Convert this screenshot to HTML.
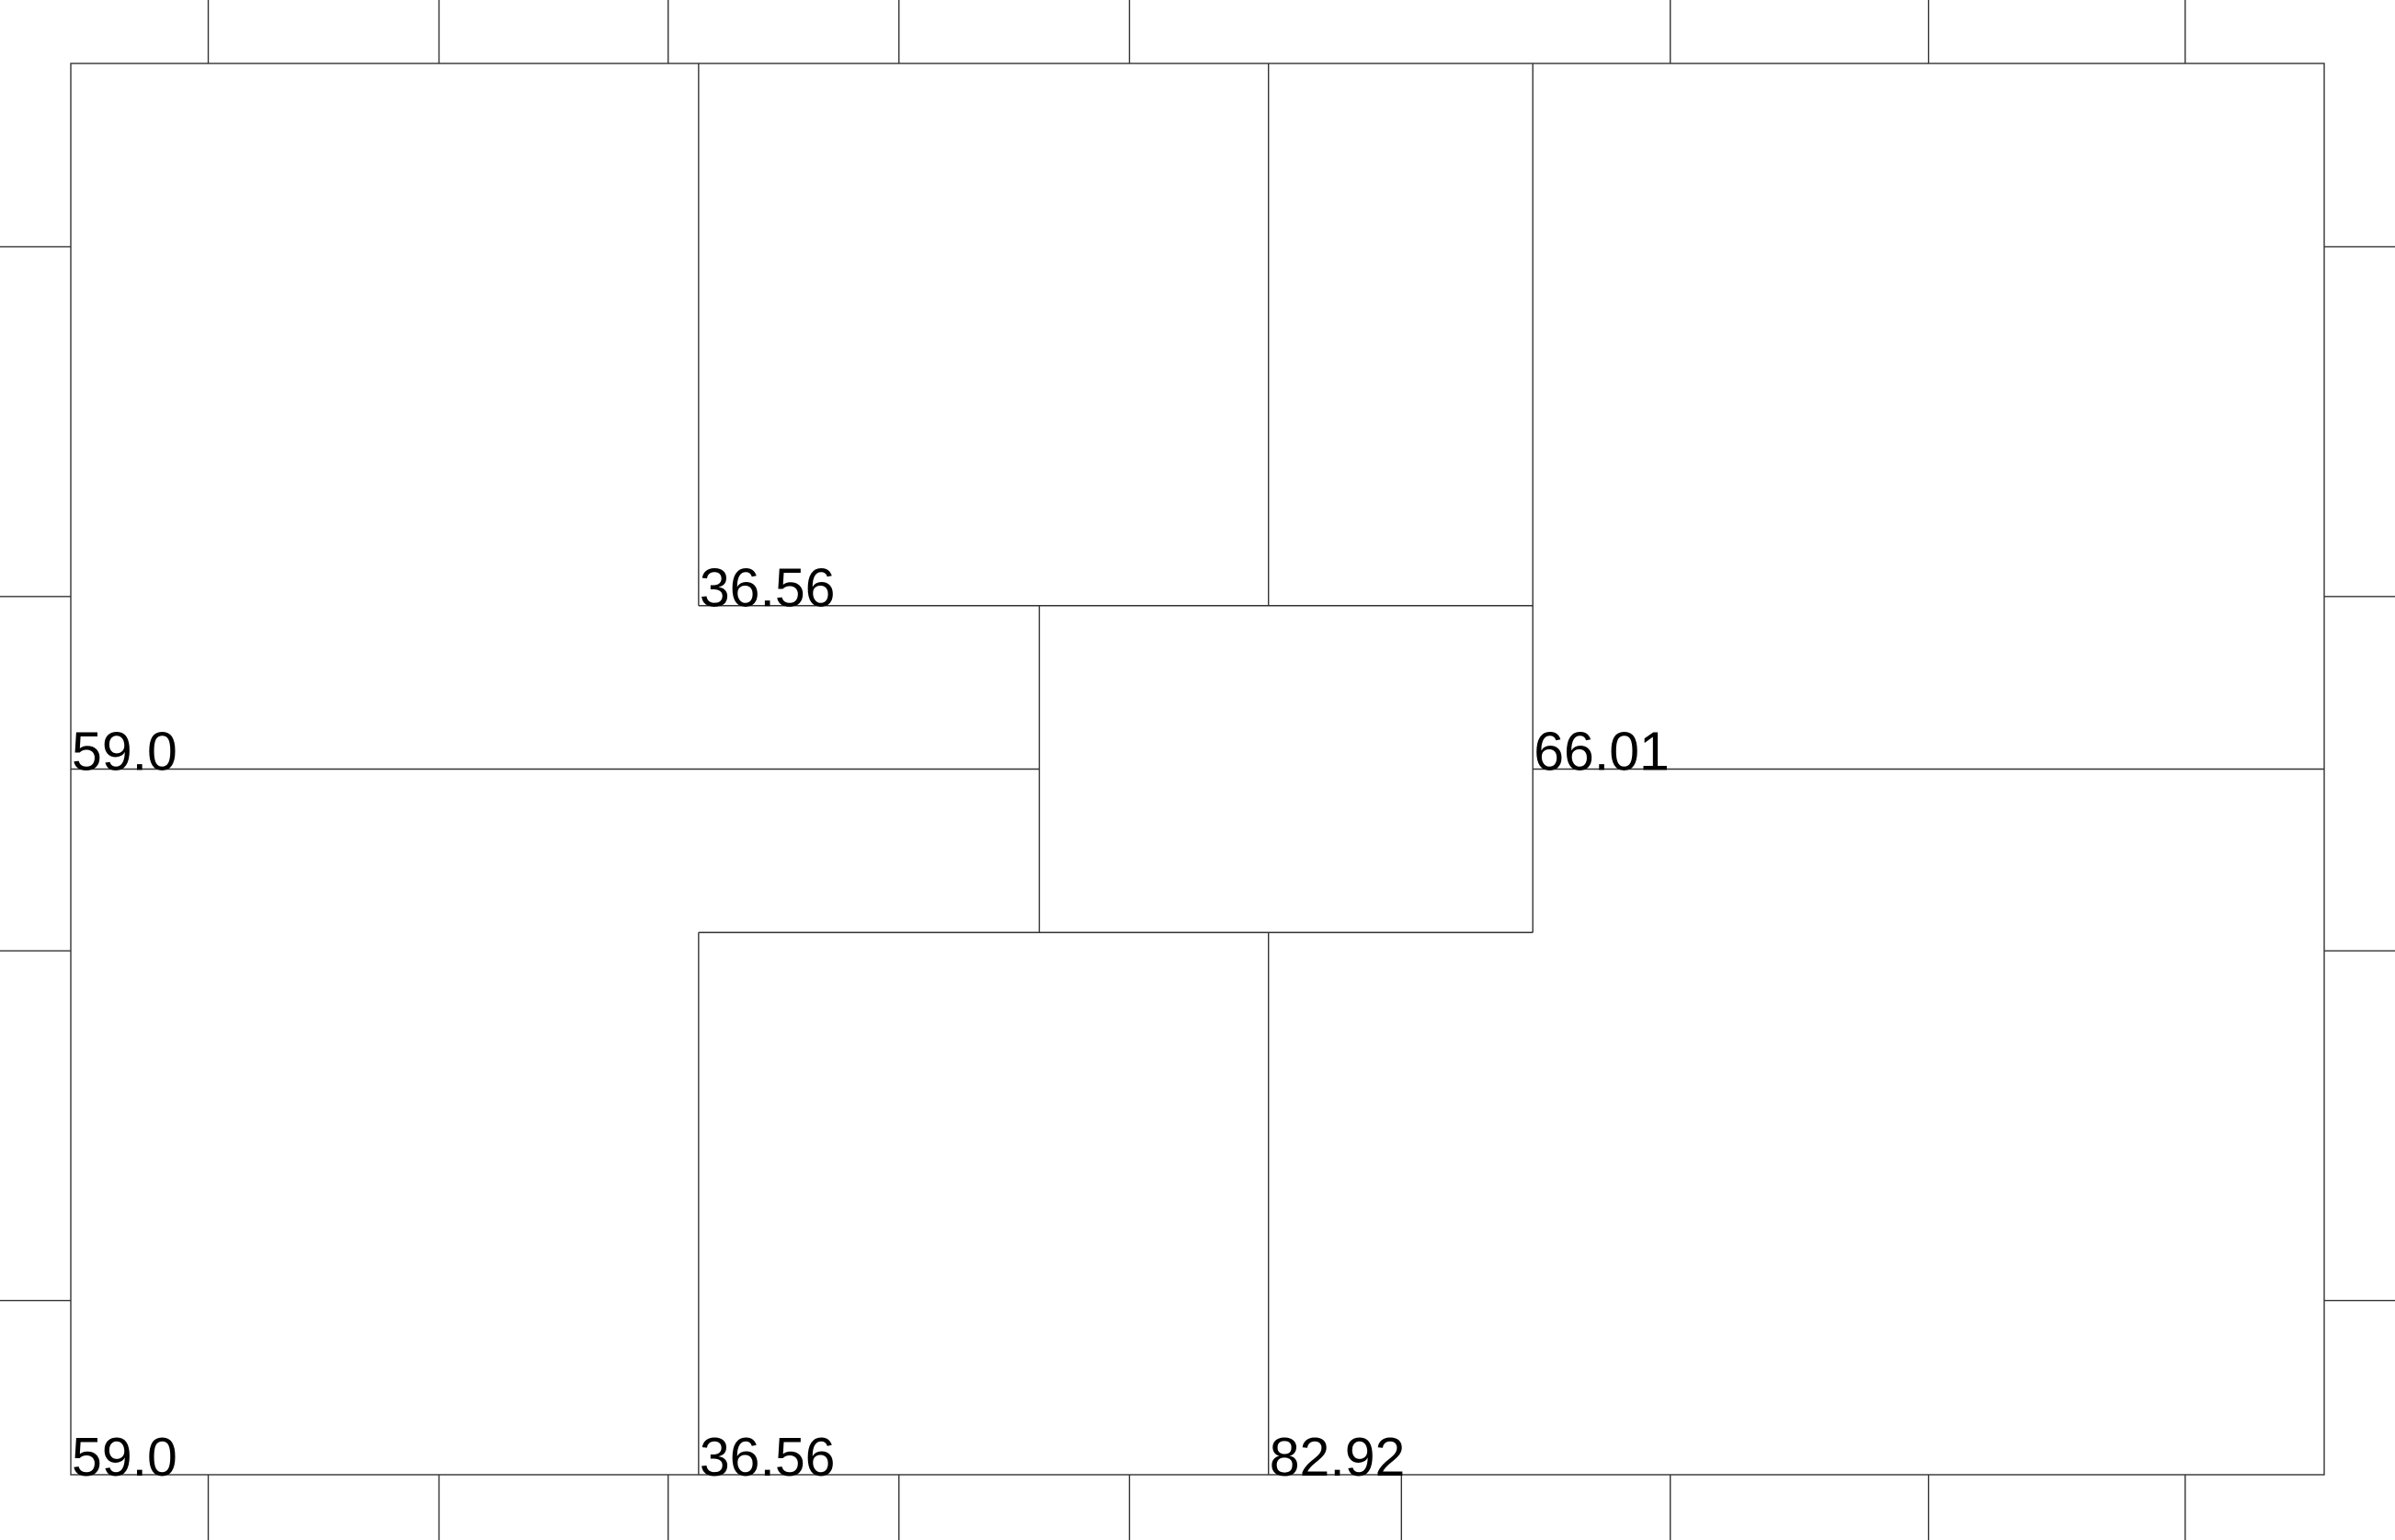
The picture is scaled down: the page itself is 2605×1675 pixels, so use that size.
<!DOCTYPE html>
<html><head><meta charset="utf-8"><style>
html,body{margin:0;padding:0;background:#fff;}
svg{display:block;}
text{font-family:"Liberation Sans",sans-serif;font-size:59px;fill:#000;}
</style></head><body>
<svg id="chart" width="2605" height="1675" viewBox="0 0 2605 1675"></svg>
<script>
// data-space (0..100 both axes) values
const xTicksTop = [6.10, 16.34, 26.51, 36.75, 46.98, 70.98, 82.44, 93.83];
const xTicksBottom = [6.10, 16.34, 26.51, 36.75, 46.98, 59.05, 70.98, 82.44, 93.83];
const yTicks = [12.99, 37.77, 62.88, 87.66];
// segments: [x1,y1,x2,y2] in data units
const segX1 = [27.86, 53.15, 64.88, 27.86, 53.15, 27.86, 0, 64.88, 42.98];
const segY1 = [0, 0, 0, 61.58, 61.58, 38.42, 50, 50, 38.42];
const segX2 = [27.86, 53.15, 64.88, 27.86, 53.15, 64.88, 42.98, 100, 42.98];
const segY2 = [38.42, 38.42, 61.58, 100, 100, 38.42, 50, 50, 61.58];
const segExtra = [[27.86,61.58,64.88,61.58]];
const labelText = ["59.0", "36.56", "66.01", "59.0", "36.56", "82.92"];
const labelX = [0, 27.86, 64.88, 0, 27.86, 53.15];
const labelY = [50, 38.42, 50, 100, 100, 100];

const L=77, R=2528, T=69, B=1604;
const sx = v => L + (R-L)*v/100;
const sy = v => T + (B-T)*v/100;
const svg = document.getElementById('chart');
const NS='http://www.w3.org/2000/svg';
const stroke='#333';
function line(x1,y1,x2,y2,name){
  const l=document.createElementNS(NS,'line');
  l.setAttribute('x1',x1);l.setAttribute('y1',y1);l.setAttribute('x2',x2);l.setAttribute('y2',y2);
  l.setAttribute('stroke',stroke);l.setAttribute('stroke-width','1.4');
  
  
  svg.appendChild(l);
}
const frame=document.createElementNS(NS,'rect');
frame.setAttribute('x',L);frame.setAttribute('y',T);frame.setAttribute('width',R-L);frame.setAttribute('height',B-T);
frame.setAttribute('fill','none');frame.setAttribute('stroke',stroke);frame.setAttribute('stroke-width','1.4');


svg.appendChild(frame);
xTicksTop.forEach(v=>line(sx(v),0,sx(v),T,'x-tick-top'));
xTicksBottom.forEach(v=>line(sx(v),B,sx(v),1675,'x-tick-bottom'));
yTicks.forEach(v=>{line(0,sy(v),L,sy(v),'y-tick-left');line(R,sy(v),2605,sy(v),'y-tick-right');});
segX1.forEach((v,i)=>line(sx(v),sy(segY1[i]),sx(segX2[i]),sy(segY2[i]),'cell-border'));
segExtra.forEach(s=>line(sx(s[0]),sy(s[1]),sx(s[2]),sy(s[3]),'cell-border'));
labelText.forEach((t,i)=>{
  const tx=document.createElementNS(NS,'text');
  tx.setAttribute('x',sx(labelX[i])+1);tx.setAttribute('y',sy(labelY[i])+1);
  tx.textContent=t;
  
  
  svg.appendChild(tx);
});
</script>
</body></html>
